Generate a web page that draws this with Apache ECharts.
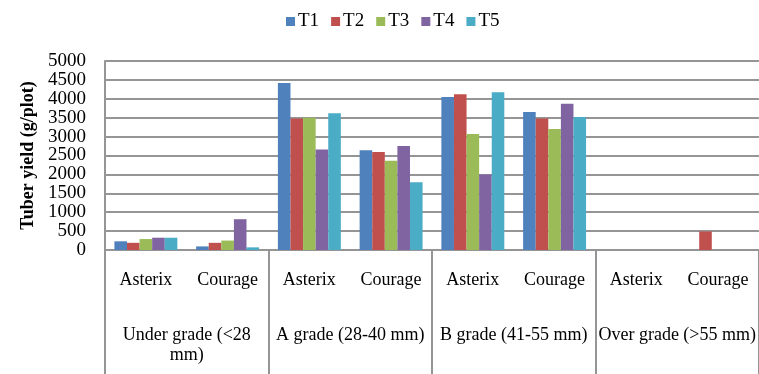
<!DOCTYPE html>
<html>
<head>
<meta charset="utf-8">
<script src="https://cdn.jsdelivr.net/npm/echarts@6/dist/echarts.min.js"></script>
<style>
  html, body { margin: 0; padding: 0; background: #fff; }
  #chart { width: 759px; height: 374px; }
</style>
</head>
<body>
<div id="chart"></div>
<script>
// tuber yield by grade and variety
const varieties = ['Asterix', 'Courage', 'Asterix', 'Courage', 'Asterix', 'Courage', 'Asterix', 'Courage'];
const grades = ['Under grade (<28\nmm)', 'A grade (28-40 mm)', 'B grade (41-55 mm)', 'Over grade (>55 mm)'];
const seriesNames = ['T1', 'T2', 'T3', 'T4', 'T5'];
const colors = ['#4F81BD', '#C0504D', '#9BBB59', '#8064A2', '#4BACC6'];

const t1 = [230, 95, 4420, 2640, 4050, 3650, 0, 0];
const t2 = [190, 190, 3480, 2590, 4120, 3480, 0, 490];
const t3 = [290, 250, 3500, 2360, 3070, 3200, 0, 0];
const t4 = [325, 815, 2660, 2750, 2000, 3870, 0, 0];
const t5 = [325, 70, 3620, 1790, 4170, 3520, 0, 0];
const values = [t1, t2, t3, t4, t5];

const font = "'Liberation Serif', 'Times New Roman', serif";
const gridGray = '#959595';

const myChart = echarts.init(document.getElementById('chart'));

const option = {
  animation: false,
  textStyle: { fontFamily: font },
  legend: {
    data: seriesNames,
    left: 281,
    top: 7,
    icon: 'rect',
    itemWidth: 9,
    itemHeight: 9,
    itemGap: 12,
    textStyle: { fontFamily: font, fontSize: 19, color: '#000', padding: [0, 0, 0, -2] }
  },
  grid: { left: 105, right: 0, top: 61, bottom: 124, containLabel: false },
  xAxis: [
    {
      type: 'category',
      data: varieties,
      axisLine: { lineStyle: { color: gridGray, width: 2 } },
      axisTick: {
        show: true,
        length: 124,
        interval: (i) => i % 2 === 0,
        lineStyle: { color: gridGray, width: 2 }
      },
      axisLabel: {
        interval: 0,
        margin: 20,
        fontFamily: font,
        fontSize: 18,
        lineHeight: 20,
        color: '#000'
      }
    },
    {
      type: 'category',
      data: grades,
      position: 'bottom',
      axisLine: { show: false },
      axisTick: { show: false },
      axisLabel: {
        interval: 0,
        margin: 75,
        fontFamily: font,
        fontSize: 18,
        lineHeight: 20,
        color: '#000'
      }
    }
  ],
  yAxis: {
    type: 'value',
    min: 0,
    max: 5000,
    interval: 500,
    name: 'Tuber yield (g/plot)',
    nameLocation: 'middle',
    nameGap: 68,
    nameTextStyle: { fontFamily: font, fontSize: 18, fontWeight: 'bold', color: '#000' },
    axisLine: { show: true, lineStyle: { color: gridGray, width: 2 } },
    axisTick: { show: false },
    axisLabel: {
      margin: 19,
      fontFamily: font,
      fontSize: 19,
      color: '#000',
      formatter: (v) => String(v)
    },
    splitLine: { lineStyle: { color: gridGray, width: 2 } }
  },
  series: seriesNames.map((name, k) => ({
    name: name,
    type: 'bar',
    xAxisIndex: 0,
    data: values[k],
    barGap: 0,
    barCategoryGap: '23%',
    itemStyle: { color: colors[k] }
  }))
};

myChart.setOption(option);
</script>
</body>
</html>
